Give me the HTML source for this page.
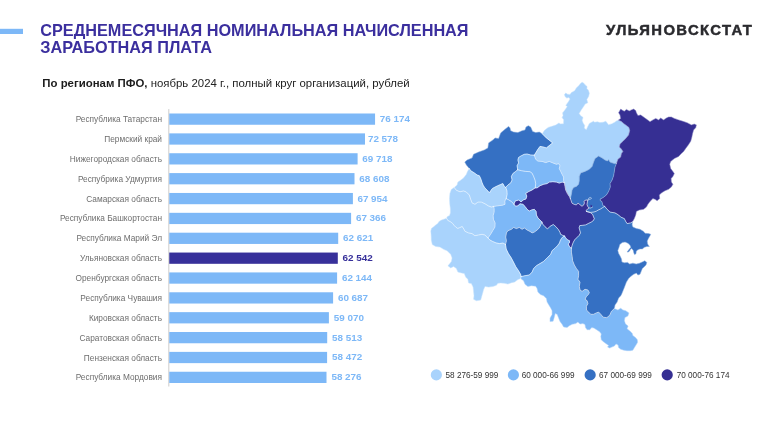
<!DOCTYPE html>
<html lang="ru"><head><meta charset="utf-8"><title>Среднемесячная номинальная начисленная заработная плата</title>
<style>
html,body{margin:0;padding:0;background:#fff;}
body{width:770px;height:428px;position:relative;overflow:hidden;font-family:"Liberation Sans",Arial,sans-serif;}
.accent{position:absolute;left:0;top:29px;width:23px;height:5px;background:#7db8f7;}
h1{position:absolute;left:40.3px;top:21.5px;margin:0;font-size:16.25px;line-height:17.1px;font-weight:bold;color:#3b2f9e;white-space:nowrap;}
.logo{position:absolute;left:606.3px;top:20.9px;font-size:14px;line-height:18px;font-weight:bold;color:#2a2a2e;letter-spacing:1.3px;white-space:nowrap;-webkit-text-stroke:0.45px #2a2a2e;transform-origin:0 0;transform:scaleX(1.06);}
.sub{position:absolute;left:42.3px;top:76.4px;font-size:11.42px;line-height:14px;color:#222;white-space:nowrap;}
.sub b{color:#1c1c1c}
.axis{position:absolute;left:168.5px;top:109px;width:1px;height:277.5px;background:#d9d9d9;}
.lbl{position:absolute;left:0;width:162px;text-align:right;font-size:8.3px;line-height:14px;color:#6e6e6e;white-space:nowrap;}
.bar{position:absolute;left:169.25px;height:11.25px;background:#7db8f7;}
.bar.dk{background:#37309a;}
.val{position:absolute;font-size:9.9px;line-height:14px;font-weight:bold;color:#7db8f7;white-space:nowrap;}
.val.dk{color:#37309a;}
.map{position:absolute;left:0;top:0;width:770px;height:428px;}
.leg{position:absolute;top:368.5px;font-size:8.2px;line-height:14px;color:#333;white-space:nowrap;}
.dot{position:absolute;top:369.4px;width:11.3px;height:11.2px;border-radius:50%;}
</style></head><body>
<h1>СРЕДНЕМЕСЯЧНАЯ НОМИНАЛЬНАЯ НАЧИСЛЕННАЯ<br>ЗАРАБОТНАЯ ПЛАТА</h1>
<div class="logo">УЛЬЯНОВСКСТАТ</div>
<div class="sub"><b>По регионам ПФО,</b> ноябрь 2024 г., полный круг организаций, рублей</div>
<svg class="map" viewBox="0 0 770 428" width="770" height="428"><rect x="0" y="28.8" width="23" height="5.2" fill="#7db8f7"/><rect x="168.15" y="109.1" width="1.25" height="277.4" fill="#d6d6d6"/><rect x="169.25" y="113.50" width="205.81" height="11.25" fill="#7db8f7"/><rect x="169.25" y="133.37" width="195.75" height="11.25" fill="#7db8f7"/><rect x="169.25" y="153.23" width="188.35" height="11.25" fill="#7db8f7"/><rect x="169.25" y="173.09" width="185.25" height="11.25" fill="#7db8f7"/><rect x="169.25" y="192.96" width="183.65" height="11.25" fill="#7db8f7"/><rect x="169.25" y="212.82" width="181.85" height="11.25" fill="#7db8f7"/><rect x="169.25" y="232.69" width="168.95" height="11.25" fill="#7db8f7"/><rect x="169.25" y="252.55" width="168.55" height="11.25" fill="#37309a"/><rect x="169.25" y="272.42" width="167.85" height="11.25" fill="#7db8f7"/><rect x="169.25" y="292.28" width="163.85" height="11.25" fill="#7db8f7"/><rect x="169.25" y="312.15" width="159.65" height="11.25" fill="#7db8f7"/><rect x="169.25" y="332.01" width="157.95" height="11.25" fill="#7db8f7"/><rect x="169.25" y="351.88" width="157.85" height="11.25" fill="#7db8f7"/><rect x="169.25" y="371.75" width="157.25" height="11.25" fill="#7db8f7"/><circle cx="436.35" cy="374.9" r="5.6" fill="#a9d3fc"/><circle cx="513.4" cy="374.9" r="5.6" fill="#7db8f7"/><circle cx="590.15" cy="374.9" r="5.6" fill="#3570c3"/><circle cx="667.2" cy="374.9" r="5.6" fill="#362f93"/></svg>
<div class="lbl" style="top:112.15px">Республика Татарстан</div><div class="val" style="top:112.05px;left:379.7px">76 174</div><div class="lbl" style="top:132.02px">Пермский край</div><div class="val" style="top:131.92px;left:367.9px">72 578</div><div class="lbl" style="top:151.88px">Нижегородская область</div><div class="val" style="top:151.78px;left:362.2px">69 718</div><div class="lbl" style="top:171.75px">Респубрика Удмуртия</div><div class="val" style="top:171.65px;left:359.2px">68 608</div><div class="lbl" style="top:191.61px">Самарская область</div><div class="val" style="top:191.51px;left:357.4px">67 954</div><div class="lbl" style="top:211.47px">Республика Башкортостан</div><div class="val" style="top:211.38px;left:355.9px">67 366</div><div class="lbl" style="top:231.34px">Республика Марий Эл</div><div class="val" style="top:231.24px;left:343.1px">62 621</div><div class="lbl" style="top:251.20px">Ульяновская область</div><div class="val dk" style="top:251.10px;left:342.6px">62 542</div><div class="lbl" style="top:271.07px">Оренбургская область</div><div class="val" style="top:270.97px;left:341.9px">62 144</div><div class="lbl" style="top:290.93px">Республика Чувашия</div><div class="val" style="top:290.83px;left:337.9px">60 687</div><div class="lbl" style="top:310.80px">Кировская область</div><div class="val" style="top:310.70px;left:333.7px">59 070</div><div class="lbl" style="top:330.66px">Саратовская область</div><div class="val" style="top:330.56px;left:332.1px">58 513</div><div class="lbl" style="top:350.53px">Пензенская область</div><div class="val" style="top:350.43px;left:332.1px">58 472</div><div class="lbl" style="top:370.39px">Республика Мордовия</div><div class="val" style="top:370.30px;left:331.4px">58 276</div>
<svg class="map" viewBox="0 0 770 428" width="770" height="428">
<g stroke-width="0.35" stroke-linejoin="round">
<path fill="#3570c3" stroke="#3570c3" d="M469.3,168.5 466.4,165.0 464.8,162.1 467.1,160.0 472.1,157.9 473.6,154.3 478.6,152.1 484.3,150.0 487.9,147.9 488.6,142.9 492.9,140.0 495.0,137.9 498.6,138.6 500.7,132.9 505.0,129.3 508.6,126.4 510.0,127.9 510.7,130.7 513.6,132.1 517.9,132.6 522.1,130.7 525.0,130.0 526.0,127.1 528.3,125.7 530.7,127.1 532.6,131.4 535.7,132.6 539.3,132.1 542.3,133.8 546.4,137.9 550.0,140.7 552.6,142.9 550.0,145.0 546.4,147.9 542.9,146.9 540.0,146.4 537.9,149.3 535.7,152.9 534.3,155.2 530.7,155.0 527.1,154.0 524.3,154.3 521.4,155.7 518.6,157.4 517.9,160.0 518.6,162.9 517.1,165.7 517.7,169.7 515.7,171.4 512.9,173.6 511.4,176.4 512.1,180.0 510.7,182.9 507.9,185.0 505.7,187.4 504.3,186.4 502.9,183.6 500.7,184.4 497.2,186.0 494.8,187.2 492.5,188.4 491.0,190.3 490.0,192.4 488.7,192.1 486.9,189.9 484.9,187.9 483.3,185.6 482.1,182.8 480.7,178.6 479.3,175.7 477.1,175.0 474.3,172.9 470.7,170.7Z"><title>Нижегородская область</title></path>
<path fill="#a9d3fc" stroke="#a9d3fc" d="M542.3,133.8 544.5,130.3 548.2,127.4 552.7,126.1 555.8,125.0 558.9,123.1 560.5,123.9 563.5,123.8 563.7,119.7 562.1,117.6 563.1,115.5 562.6,112.9 564.7,110.2 566.3,108.1 567.3,106.5 565.8,105.4 566.8,103.9 568.4,101.8 570.0,99.1 568.9,97.5 566.8,98.1 565.0,96.5 564.4,94.4 565.8,93.1 567.5,94.2 570.0,94.4 571.5,92.5 574.7,90.7 576.3,88.1 578.9,85.5 580.5,83.4 582.1,82.3 583.6,83.0 585.2,84.9 587.1,86.5 586.8,88.6 588.4,90.2 589.4,93.3 588.6,96.5 586.8,99.6 587.8,102.8 585.2,103.9 583.6,106.5 581.5,109.6 579.1,113.4 580.5,115.5 583.1,117.6 582.1,120.2 583.1,122.9 584.7,125.5 584.2,128.1 586.3,129.7 587.8,126.5 589.4,123.4 591.5,122.3 593.6,121.3 594.7,122.3 597.3,121.8 599.9,122.6 603.1,122.3 605.7,121.3 607.3,122.9 608.4,124.7 611.5,123.9 614.7,122.3 616.8,120.8 618.3,120.2 621.1,121.3 623.6,123.4 626.4,125.6 628.9,127.4 629.7,130.6 628.6,134.9 625.7,138.4 622.9,141.3 620.0,144.1 619.3,147.0 621.4,149.1 622.9,151.5 621.4,153.6 620.7,157.1 617.9,159.3 616.5,163.3 614.3,163.6 610.0,162.1 608.6,159.5 607.5,161.0 605.0,160.0 602.1,157.9 598.6,156.0 595.0,158.6 593.6,162.1 592.1,166.4 589.3,169.3 585.0,171.4 580.7,172.9 579.3,176.4 579.3,180.7 578.6,184.3 576.4,186.4 573.6,187.4 572.1,190.0 571.4,194.3 570.4,198.6 569.3,196.4 567.4,193.6 565.7,190.0 565.0,186.4 564.3,182.6 563.6,180.7 563.6,177.1 562.1,174.3 560.7,171.4 559.3,168.6 560.0,165.7 558.6,163.6 556.4,164.3 552.9,162.9 549.3,161.4 545.7,162.6 542.1,161.4 537.9,161.1 535.7,159.3 534.3,155.2 535.7,152.9 537.9,149.3 540.0,146.4 542.9,146.9 546.4,147.9 550.0,145.0 552.6,142.9 550.0,140.7 546.4,137.9Z"><title>Кировская область</title></path>
<path fill="#362f93" stroke="#362f93" d="M618.3,120.2 620.7,118.4 620.0,114.9 618.6,112.7 620.7,109.1 622.9,110.6 624.3,111.3 626.4,109.4 629.3,110.9 631.4,109.9 633.6,109.1 635.7,110.6 636.4,112.7 637.9,115.6 640.7,114.9 643.6,117.0 646.4,119.1 650.0,121.7 652.9,119.9 655.7,118.4 658.6,119.9 660.7,118.1 663.6,119.9 666.4,118.1 668.6,117.0 671.4,117.0 674.3,118.4 678.6,119.9 682.9,121.3 687.1,122.7 691.4,124.9 694.3,124.1 696.4,124.9 695.7,127.7 693.6,129.9 692.6,133.4 691.7,137.7 690.7,141.3 688.3,144.9 685.7,148.4 683.6,151.5 681.4,153.6 678.6,156.4 674.3,158.6 670.7,161.4 669.7,164.3 670.7,168.6 672.9,171.4 674.3,173.6 672.9,176.4 671.1,178.6 671.4,182.1 672.9,184.3 671.4,186.9 668.6,189.3 665.0,190.7 661.4,192.9 659.3,195.0 659.7,198.6 657.1,200.7 655.0,199.3 652.9,198.6 650.0,201.4 647.9,204.3 646.4,207.1 643.6,209.3 639.3,210.0 636.4,211.4 635.7,215.0 634.3,218.6 632.4,221.9 630.7,222.9 627.1,223.6 625.7,221.4 624.3,218.6 620.7,217.1 618.6,215.0 615.0,212.9 610.0,212.1 607.1,209.3 604.6,206.3 602.8,205.4 602.4,203.2 601.7,201.3 600.2,200.6 600.2,199.0 601.9,198.3 603.6,197.2 606.4,195.0 608.6,191.4 610.3,187.1 610.0,183.6 612.1,180.0 613.6,175.7 614.3,171.4 615.0,167.1 616.5,163.3 617.9,159.3 620.7,157.1 621.4,153.6 622.9,151.5 621.4,149.1 619.3,147.0 620.0,144.1 622.9,141.3 625.7,138.4 628.6,134.9 629.7,130.6 628.9,127.4 626.4,125.6 623.6,123.4 621.1,121.3Z"><title>Пермский край</title></path>
<path fill="#3570c3" stroke="#3570c3" d="M616.5,163.3 614.3,163.6 610.0,162.1 608.6,159.5 607.5,161.0 605.0,160.0 602.1,157.9 598.6,156.0 595.0,158.6 593.6,162.1 592.1,166.4 589.3,169.3 585.0,171.4 580.7,172.9 579.3,176.4 579.3,180.7 578.6,184.3 576.4,186.4 573.6,187.4 572.1,190.0 571.4,194.3 570.4,198.6 572.0,203.2 574.3,204.4 576.2,204.9 578.1,203.2 579.9,204.6 582.0,206.3 583.7,204.9 584.4,203.0 583.9,201.3 586.0,199.9 587.9,200.2 587.4,202.0 587.0,204.4 587.7,206.5 589.1,207.9 587.4,209.3 586.0,210.5 586.4,211.4 590.3,212.4 594.0,212.0 596.3,211.2 598.2,210.1 600.5,209.0 602.4,207.8 604.6,206.3 602.8,205.4 602.4,203.2 601.7,201.3 600.2,200.6 600.2,199.0 601.9,198.3 603.6,197.2 606.4,195.0 608.6,191.4 610.3,187.1 610.0,183.6 612.1,180.0 613.6,175.7 614.3,171.4 615.0,167.1Z"><title>Удмуртия</title></path>
<path fill="#362f93" stroke="#362f93" d="M586.4,211.4 590.3,212.6 592.7,214.5 593.5,216.8 594.3,218.5 593.6,220.3 591.4,222.0 588.5,223.4 585.6,224.9 582.7,225.3 579.8,225.6 579.1,227.8 579.8,230.3 580.5,232.9 579.1,235.4 576.9,237.6 574.7,239.8 573.3,242.3 572.2,245.2 571.4,248.1 570.4,247.7 569.3,246.3 568.2,244.1 569.3,243.0 569.6,240.8 567.5,239.8 565.7,237.9 564.6,236.1 562.8,235.4 560.6,234.3 559.9,232.1 558.4,229.6 555.9,226.7 553.3,224.5 550.1,226.3 547.5,228.9 545.0,226.7 542.9,224.3 541.9,222.1 540.0,220.0 537.9,217.9 536.4,215.0 536.1,211.4 534.3,209.3 531.4,210.0 529.3,211.1 527.1,209.3 525.0,206.4 522.9,204.3 520.0,203.8 517.9,205.8 515.6,206.2 513.9,204.2 515.3,200.9 518.8,200.0 521.0,201.9 523.2,200.0 526.0,198.9 526.8,196.0 525.7,193.5 528.6,191.6 532.0,190.0 535.3,187.8 537.1,187.9 540.0,185.7 543.6,184.3 547.1,183.6 549.3,182.1 552.9,181.7 556.4,182.1 559.3,183.1 562.1,182.1 564.3,182.6 565.0,186.4 565.7,190.0 567.4,193.6 569.3,196.4 570.4,198.6 572.0,203.2 574.3,204.4 576.2,204.9 578.1,203.2 579.9,204.6 582.0,206.3 583.7,204.9 584.4,203.0 583.9,201.3 586.0,199.9 587.9,200.2 587.4,202.0 587.0,204.4 587.7,206.5 589.1,207.9 587.4,209.3 586.0,210.5Z"><title>Татарстан</title></path>
<path fill="#7db8f7" stroke="#7db8f7" d="M534.3,155.2 535.7,159.3 537.9,161.1 542.1,161.4 545.7,162.6 549.3,161.4 552.9,162.9 556.4,164.3 558.6,163.6 560.0,165.7 559.3,168.6 560.7,171.4 562.1,174.3 563.6,177.1 563.6,180.7 564.3,182.6 562.1,182.1 559.3,183.1 556.4,182.1 552.9,181.7 549.3,182.1 547.1,183.6 543.6,184.3 540.0,185.7 537.1,187.9 535.3,187.8 535.7,183.6 535.0,180.0 533.6,176.4 532.1,173.2 530.0,171.7 525.7,171.4 521.4,170.7 517.7,169.7 517.1,165.7 518.6,162.9 517.9,160.0 518.6,157.4 521.4,155.7 524.3,154.3 527.1,154.0 530.7,155.0Z"><title>Марий Эл</title></path>
<path fill="#7db8f7" stroke="#7db8f7" d="M517.7,169.7 521.4,170.7 525.7,171.4 530.0,171.7 532.1,173.2 533.6,176.4 535.0,180.0 535.7,183.6 535.3,187.8 532.0,190.0 528.6,191.6 525.7,193.5 526.8,196.0 526.0,198.9 523.2,200.0 521.0,201.9 518.8,200.0 515.3,200.9 513.9,204.2 511.4,201.5 508.6,199.8 506.2,198.6 507.1,194.3 506.9,190.7 505.7,187.4 507.9,185.0 510.7,182.9 512.1,180.0 511.4,176.4 512.9,173.6 515.7,171.4Z"><title>Чувашия</title></path>
<path fill="#a9d3fc" stroke="#a9d3fc" d="M505.7,187.4 504.3,186.4 502.9,183.6 500.7,184.4 497.2,186.0 494.8,187.2 492.5,188.4 491.0,190.3 490.0,192.4 488.7,192.1 486.9,189.9 484.9,187.9 483.3,185.6 482.1,182.8 480.7,178.6 479.3,175.7 477.1,175.0 474.3,172.9 470.7,170.7 469.3,168.5 467.5,171.5 466.4,174.3 463.6,177.9 460.0,180.7 457.9,182.1 457.1,185.0 454.2,187.5 456.4,190.3 460.0,191.8 463.6,190.9 466.4,192.1 469.3,195.0 470.7,199.3 472.1,202.9 475.0,204.3 477.9,202.1 481.4,202.1 485.0,203.8 488.4,205.9 491.5,207.1 493.6,206.4 497.9,205.8 502.5,205.2 505.0,204.3 504.8,201.0 506.2,198.6 507.1,194.3 506.9,190.7Z"><title>Мордовия</title></path>
<path fill="#a9d3fc" stroke="#a9d3fc" d="M454.2,187.5 456.4,190.3 460.0,191.8 463.6,190.9 466.4,192.1 469.3,195.0 470.7,199.3 472.1,202.9 475.0,204.3 477.9,202.1 481.4,202.1 485.0,203.8 488.4,205.9 491.5,207.1 493.6,206.4 494.1,208.6 494.1,212.1 493.1,215.7 493.4,219.3 495.1,222.9 494.9,227.1 492.7,230.7 490.6,234.3 488.0,237.9 487.0,237.1 484.9,235.0 482.0,234.3 478.4,235.0 474.9,235.7 472.0,233.6 468.4,232.9 464.9,231.2 463.8,229.0 462.2,226.5 459.5,227.7 457.7,228.4 455.8,227.1 454.1,225.4 452.6,223.4 450.2,221.6 447.9,220.5 446.6,218.3 447.2,216.7 449.5,215.6 450.4,213.0 450.4,208.7 449.8,204.3 449.5,199.0 449.9,193.6 451.3,189.5Z"><title>Пензенская область</title></path>
<path fill="#7db8f7" stroke="#7db8f7" d="M506.2,198.6 508.6,199.8 511.4,201.5 513.9,204.2 515.6,206.2 517.9,205.8 520.0,203.8 522.9,204.3 525.0,206.4 527.1,209.3 529.3,211.1 531.4,210.0 534.3,209.3 536.1,211.4 536.4,215.0 537.9,217.9 540.0,220.0 541.9,222.1 540.7,225.0 539.3,227.9 537.1,230.0 534.3,232.1 532.1,232.9 530.0,231.4 527.1,230.0 524.3,227.9 522.1,229.3 519.3,227.4 516.4,228.6 513.6,227.4 511.4,229.3 507.9,230.7 506.4,232.9 505.7,237.1 506.4,240.7 505.5,244.6 503.0,243.0 499.5,243.6 496.0,242.9 492.5,241.4 489.9,240.0 488.0,237.9 490.6,234.3 492.7,230.7 494.9,227.1 495.1,222.9 493.4,219.3 493.1,215.7 494.1,212.1 494.1,208.6 493.6,206.4 497.9,205.8 502.5,205.2 505.0,204.3 504.8,201.0Z"><title>Ульяновская область</title></path>
<path fill="#3570c3" stroke="#3570c3" d="M541.9,222.1 540.7,225.0 539.3,227.9 537.1,230.0 534.3,232.1 532.1,232.9 530.0,231.4 527.1,230.0 524.3,227.9 522.1,229.3 519.3,227.4 516.4,228.6 513.6,227.4 511.4,229.3 507.9,230.7 506.4,232.9 505.7,237.1 506.4,240.7 505.5,244.6 506.2,249.0 508.4,253.6 511.2,257.8 513.4,262.0 515.8,266.8 518.3,270.4 520.7,274.6 521.1,276.6 525.0,275.7 529.3,275.0 532.1,272.1 533.6,268.6 536.4,265.7 540.0,263.6 543.6,261.4 547.1,257.9 550.7,254.3 552.1,250.7 555.0,248.2 557.3,245.9 559.5,243.0 560.2,240.8 561.3,238.7 562.8,236.9 564.6,236.1 562.8,235.4 560.6,234.3 559.9,232.1 558.4,229.6 555.9,226.7 553.3,224.5 550.1,226.3 547.5,228.9 545.0,226.7 542.9,224.3Z"><title>Самарская область</title></path>
<path fill="#a9d3fc" stroke="#a9d3fc" d="M446.6,218.3 447.9,220.5 450.2,221.6 452.6,223.4 454.1,225.4 455.8,227.1 457.7,228.4 459.5,227.7 462.2,226.5 463.8,229.0 464.9,231.2 468.4,232.9 472.0,233.6 474.9,235.7 478.4,235.0 482.0,234.3 484.9,235.0 487.0,237.1 488.0,237.9 489.9,240.0 492.5,241.4 496.0,242.9 499.5,243.6 503.0,243.0 505.5,244.6 506.2,249.0 508.4,253.6 511.2,257.8 513.4,262.0 515.8,266.8 518.3,270.4 520.7,274.6 521.1,276.6 520.7,278.6 517.9,279.6 514.7,281.9 510.7,282.9 507.9,284.0 504.3,283.3 500.7,282.9 497.9,283.3 496.4,285.3 492.9,286.5 488.6,287.1 485.0,286.4 483.6,289.6 482.6,293.2 481.7,296.4 480.7,300.0 476.4,300.7 473.6,299.3 474.0,295.7 473.6,291.4 473.1,287.1 471.4,283.6 468.6,282.9 467.9,279.3 465.7,277.1 464.3,273.6 461.4,272.9 457.9,272.1 456.4,268.6 453.6,266.4 450.7,267.9 447.9,265.7 449.3,264.3 451.4,261.4 452.1,257.9 450.7,254.3 447.1,250.7 443.6,249.3 440.0,247.1 435.7,246.4 432.3,244.6 431.3,240.0 431.2,236.0 430.8,231.0 431.6,228.3 433.8,226.8 435.6,225.0 437.8,223.6 438.8,221.7 441.0,220.3 443.9,219.2Z"><title>Саратовская область</title></path>
<path fill="#7db8f7" stroke="#7db8f7" d="M564.6,236.1 565.7,237.9 567.5,239.8 569.6,240.8 569.3,243.0 568.2,244.1 569.3,246.3 570.4,247.7 571.4,248.1 571.4,252.1 572.1,256.4 572.6,260.7 574.3,265.0 576.4,268.6 578.6,271.4 578.6,275.7 577.9,279.3 580.0,282.1 579.3,286.4 580.0,290.0 582.1,291.4 585.0,289.3 587.9,290.0 589.3,292.5 588.6,294.3 586.4,296.4 585.0,299.3 587.1,300.7 587.9,303.6 586.4,306.4 586.4,310.0 588.6,312.1 590.7,314.3 593.6,314.3 596.4,312.9 598.6,312.1 601.2,314.8 603.2,317.2 606.8,317.7 609.8,315.2 611.4,311.4 614.3,308.6 617.9,310.0 620.7,308.3 622.9,310.0 625.7,310.7 628.9,312.9 627.9,316.0 624.9,317.6 624.4,320.8 625.5,323.9 628.1,326.0 627.0,328.7 630.2,331.3 632.3,333.4 632.8,335.5 635.5,337.6 637.3,339.7 637.6,342.3 636.0,345.0 634.4,347.6 632.8,350.2 630.2,350.7 627.0,350.7 623.9,350.2 620.7,349.2 618.6,347.6 618.1,345.0 616.0,343.9 614.4,346.0 611.8,347.1 609.7,348.1 607.6,347.1 608.7,345.5 606.5,343.9 603.4,341.8 601.3,339.7 600.8,336.5 601.3,333.9 599.7,331.8 596.6,329.7 593.9,328.1 591.8,327.6 589.7,329.7 587.1,329.7 585.5,327.6 585.0,324.5 582.9,323.6 580.0,324.0 577.9,322.1 575.7,323.6 572.1,324.3 569.3,325.7 567.1,327.4 563.6,326.9 562.1,324.3 560.0,321.4 558.6,317.9 557.1,314.3 555.2,313.6 554.2,317.5 553.1,321.2 550.0,321.6 550.1,318.0 552.1,314.5 552.1,310.7 550.7,307.9 548.9,305.0 547.1,302.1 546.4,298.6 543.6,295.7 540.5,294.6 537.9,292.1 537.1,288.6 535.7,286.2 531.4,285.7 527.9,286.4 525.0,284.3 523.6,280.7 520.7,278.6 521.1,276.6 525.0,275.7 529.3,275.0 532.1,272.1 533.6,268.6 536.4,265.7 540.0,263.6 543.6,261.4 547.1,257.9 550.7,254.3 552.1,250.7 555.0,248.2 557.3,245.9 559.5,243.0 560.2,240.8 561.3,238.7 562.8,236.9Z"><title>Оренбургская область</title></path>
<path fill="#3570c3" stroke="#3570c3" d="M604.6,206.3 607.1,209.3 610.0,212.1 615.0,212.9 618.6,215.0 620.7,217.1 624.3,218.6 625.7,221.4 627.1,223.6 630.7,222.9 632.4,221.9 632.1,225.0 632.9,227.1 636.4,228.6 640.0,229.3 643.6,231.4 645.0,233.3 648.6,233.6 650.7,234.3 650.1,235.6 648.5,238.3 647.2,241.1 647.6,244.0 649.3,246.5 646.8,246.5 644.4,247.3 642.3,248.9 639.9,248.9 637.4,250.1 636.2,251.4 636.0,253.8 634.5,254.6 633.7,252.6 633.3,250.5 631.7,248.5 630.5,249.3 629.6,251.0 628.0,252.2 627.2,251.8 629.2,249.3 630.9,247.3 630.0,245.2 628.0,243.2 625.1,242.0 622.3,242.4 619.8,244.4 619.0,247.3 617.8,250.5 618.6,253.4 620.2,256.3 621.5,259.1 621.9,262.0 624.3,262.8 627.6,262.4 629.6,264.1 632.9,263.2 636.2,264.1 639.5,263.2 642.3,262.0 644.8,260.8 646.8,262.4 646.0,264.9 644.0,266.9 642.3,268.6 641.4,270.7 640.0,274.3 637.9,275.0 636.4,273.1 633.6,274.3 630.7,276.4 628.6,278.6 626.4,282.1 625.0,285.7 623.6,289.3 622.3,292.5 621.0,295.5 618.6,297.9 617.1,302.1 615.0,305.0 614.3,308.6 611.4,311.4 609.8,315.2 606.8,317.7 603.2,317.2 601.2,314.8 598.6,312.1 596.4,312.9 593.6,314.3 590.7,314.3 588.6,312.1 586.4,310.0 586.4,306.4 587.9,303.6 587.1,300.7 585.0,299.3 586.4,296.4 588.6,294.3 589.3,292.5 587.9,290.0 585.0,289.3 582.1,291.4 580.0,290.0 579.3,286.4 580.0,282.1 577.9,279.3 578.6,275.7 578.6,271.4 576.4,268.6 574.3,265.0 572.6,260.7 572.1,256.4 571.4,252.1 571.4,248.1 572.2,245.2 573.3,242.3 574.7,239.8 576.9,237.6 579.1,235.4 580.5,232.9 579.8,230.3 579.1,227.8 579.8,225.6 582.7,225.3 585.6,224.9 588.5,223.4 591.4,222.0 593.6,220.3 594.3,218.5 593.5,216.8 592.7,214.5 590.3,212.6 586.4,211.4 590.3,212.4 594.0,212.0 596.3,211.2 598.2,210.1 600.5,209.0 602.4,207.8Z"><title>Башкортостан</title></path>
<path fill="#362f93" d="M590.7,204.6 L591.9,205.4 L592.4,206.5 L591.2,207.5 L590.4,206.5Z"/>
</g><g fill="none" stroke="#f6faff" stroke-linejoin="round" stroke-linecap="round">
<path stroke-width="0.2" d="M469.3,168.5 466.4,165.0 464.8,162.1 467.1,160.0 472.1,157.9 473.6,154.3 478.6,152.1 484.3,150.0 487.9,147.9 488.6,142.9 492.9,140.0 495.0,137.9 498.6,138.6 500.7,132.9 505.0,129.3 508.6,126.4 510.0,127.9 510.7,130.7 513.6,132.1 517.9,132.6 522.1,130.7 525.0,130.0 526.0,127.1 528.3,125.7 530.7,127.1 532.6,131.4 535.7,132.6 539.3,132.1 542.3,133.8"/>
<path stroke-width="0.62" d="M542.3,133.8 546.4,137.9 550.0,140.7 552.6,142.9 550.0,145.0 546.4,147.9 542.9,146.9 540.0,146.4 537.9,149.3 535.7,152.9 534.3,155.2"/>
<path stroke-width="0.62" d="M534.3,155.2 530.7,155.0 527.1,154.0 524.3,154.3 521.4,155.7 518.6,157.4 517.9,160.0 518.6,162.9 517.1,165.7 517.7,169.7"/>
<path stroke-width="0.62" d="M517.7,169.7 515.7,171.4 512.9,173.6 511.4,176.4 512.1,180.0 510.7,182.9 507.9,185.0 505.7,187.4"/>
<path stroke-width="0.62" d="M505.7,187.4 504.3,186.4 502.9,183.6 500.7,184.4 497.2,186.0 494.8,187.2 492.5,188.4 491.0,190.3 490.0,192.4 488.7,192.1 486.9,189.9 484.9,187.9 483.3,185.6 482.1,182.8 480.7,178.6 479.3,175.7 477.1,175.0 474.3,172.9 470.7,170.7 469.3,168.5"/>
<path stroke-width="0.2" d="M542.3,133.8 544.5,130.3 548.2,127.4 552.7,126.1 555.8,125.0 558.9,123.1 560.5,123.9 563.5,123.8 563.7,119.7 562.1,117.6 563.1,115.5 562.6,112.9 564.7,110.2 566.3,108.1 567.3,106.5 565.8,105.4 566.8,103.9 568.4,101.8 570.0,99.1 568.9,97.5 566.8,98.1 565.0,96.5 564.4,94.4 565.8,93.1 567.5,94.2 570.0,94.4 571.5,92.5 574.7,90.7 576.3,88.1 578.9,85.5 580.5,83.4 582.1,82.3 583.6,83.0 585.2,84.9 587.1,86.5 586.8,88.6 588.4,90.2 589.4,93.3 588.6,96.5 586.8,99.6 587.8,102.8 585.2,103.9 583.6,106.5 581.5,109.6 579.1,113.4 580.5,115.5 583.1,117.6 582.1,120.2 583.1,122.9 584.7,125.5 584.2,128.1 586.3,129.7 587.8,126.5 589.4,123.4 591.5,122.3 593.6,121.3 594.7,122.3 597.3,121.8 599.9,122.6 603.1,122.3 605.7,121.3 607.3,122.9 608.4,124.7 611.5,123.9 614.7,122.3 616.8,120.8 618.3,120.2"/>
<path stroke-width="0.3" d="M618.3,120.2 621.1,121.3 623.6,123.4 626.4,125.6 628.9,127.4 629.7,130.6 628.6,134.9 625.7,138.4 622.9,141.3 620.0,144.1 619.3,147.0 621.4,149.1 622.9,151.5 621.4,153.6 620.7,157.1 617.9,159.3 616.5,163.3"/>
<path stroke-width="0.3" d="M616.5,163.3 614.3,163.6 610.0,162.1 608.6,159.5 607.5,161.0 605.0,160.0 602.1,157.9 598.6,156.0 595.0,158.6 593.6,162.1 592.1,166.4 589.3,169.3 585.0,171.4 580.7,172.9 579.3,176.4 579.3,180.7 578.6,184.3 576.4,186.4 573.6,187.4 572.1,190.0 571.4,194.3 570.4,198.6"/>
<path stroke-width="0.62" d="M570.4,198.6 569.3,196.4 567.4,193.6 565.7,190.0 565.0,186.4 564.3,182.6"/>
<path stroke-width="0.62" d="M564.3,182.6 563.6,180.7 563.6,177.1 562.1,174.3 560.7,171.4 559.3,168.6 560.0,165.7 558.6,163.6 556.4,164.3 552.9,162.9 549.3,161.4 545.7,162.6 542.1,161.4 537.9,161.1 535.7,159.3 534.3,155.2"/>
<path stroke-width="0.2" d="M618.3,120.2 620.7,118.4 620.0,114.9 618.6,112.7 620.7,109.1 622.9,110.6 624.3,111.3 626.4,109.4 629.3,110.9 631.4,109.9 633.6,109.1 635.7,110.6 636.4,112.7 637.9,115.6 640.7,114.9 643.6,117.0 646.4,119.1 650.0,121.7 652.9,119.9 655.7,118.4 658.6,119.9 660.7,118.1 663.6,119.9 666.4,118.1 668.6,117.0 671.4,117.0 674.3,118.4 678.6,119.9 682.9,121.3 687.1,122.7 691.4,124.9 694.3,124.1 696.4,124.9 695.7,127.7 693.6,129.9 692.6,133.4 691.7,137.7 690.7,141.3 688.3,144.9 685.7,148.4 683.6,151.5 681.4,153.6 678.6,156.4 674.3,158.6 670.7,161.4 669.7,164.3 670.7,168.6 672.9,171.4 674.3,173.6 672.9,176.4 671.1,178.6 671.4,182.1 672.9,184.3 671.4,186.9 668.6,189.3 665.0,190.7 661.4,192.9 659.3,195.0 659.7,198.6 657.1,200.7 655.0,199.3 652.9,198.6 650.0,201.4 647.9,204.3 646.4,207.1 643.6,209.3 639.3,210.0 636.4,211.4 635.7,215.0 634.3,218.6 632.4,221.9"/>
<path stroke-width="0.62" d="M632.4,221.9 630.7,222.9 627.1,223.6 625.7,221.4 624.3,218.6 620.7,217.1 618.6,215.0 615.0,212.9 610.0,212.1 607.1,209.3 604.6,206.3"/>
<path stroke-width="0.3" d="M604.6,206.3 602.8,205.4 602.4,203.2 601.7,201.3 600.2,200.6 600.2,199.0 601.9,198.3 603.6,197.2 606.4,195.0 608.6,191.4 610.3,187.1 610.0,183.6 612.1,180.0 613.6,175.7 614.3,171.4 615.0,167.1 616.5,163.3"/>
<path stroke-width="0.62" d="M570.4,198.6 572.0,203.2 574.3,204.4 576.2,204.9 578.1,203.2 579.9,204.6 582.0,206.3 583.7,204.9 584.4,203.0 583.9,201.3 586.0,199.9 587.9,200.2 587.4,202.0 587.0,204.4 587.7,206.5 589.1,207.9 587.4,209.3 586.0,210.5 586.4,211.4"/>
<path stroke-width="0.62" d="M586.4,211.4 590.3,212.4 594.0,212.0 596.3,211.2 598.2,210.1 600.5,209.0 602.4,207.8 604.6,206.3"/>
<path stroke-width="0.62" d="M586.4,211.4 590.3,212.6 592.7,214.5 593.5,216.8 594.3,218.5 593.6,220.3 591.4,222.0 588.5,223.4 585.6,224.9 582.7,225.3 579.8,225.6 579.1,227.8 579.8,230.3 580.5,232.9 579.1,235.4 576.9,237.6 574.7,239.8 573.3,242.3 572.2,245.2 571.4,248.1"/>
<path stroke-width="0.62" d="M571.4,248.1 570.4,247.7 569.3,246.3 568.2,244.1 569.3,243.0 569.6,240.8 567.5,239.8 565.7,237.9 564.6,236.1"/>
<path stroke-width="0.62" d="M564.6,236.1 562.8,235.4 560.6,234.3 559.9,232.1 558.4,229.6 555.9,226.7 553.3,224.5 550.1,226.3 547.5,228.9 545.0,226.7 542.9,224.3 541.9,222.1"/>
<path stroke-width="0.62" d="M541.9,222.1 540.0,220.0 537.9,217.9 536.4,215.0 536.1,211.4 534.3,209.3 531.4,210.0 529.3,211.1 527.1,209.3 525.0,206.4 522.9,204.3 520.0,203.8 517.9,205.8 515.6,206.2 513.9,204.2"/>
<path stroke-width="0.62" d="M513.9,204.2 515.3,200.9 518.8,200.0 521.0,201.9 523.2,200.0 526.0,198.9 526.8,196.0 525.7,193.5 528.6,191.6 532.0,190.0 535.3,187.8"/>
<path stroke-width="0.62" d="M535.3,187.8 537.1,187.9 540.0,185.7 543.6,184.3 547.1,183.6 549.3,182.1 552.9,181.7 556.4,182.1 559.3,183.1 562.1,182.1 564.3,182.6"/>
<path stroke-width="0.62" d="M535.3,187.8 535.7,183.6 535.0,180.0 533.6,176.4 532.1,173.2 530.0,171.7 525.7,171.4 521.4,170.7 517.7,169.7"/>
<path stroke-width="0.62" d="M513.9,204.2 511.4,201.5 508.6,199.8 506.2,198.6"/>
<path stroke-width="0.62" d="M506.2,198.6 507.1,194.3 506.9,190.7 505.7,187.4"/>
<path stroke-width="0.2" d="M469.3,168.5 467.5,171.5 466.4,174.3 463.6,177.9 460.0,180.7 457.9,182.1 457.1,185.0 454.2,187.5"/>
<path stroke-width="0.62" d="M454.2,187.5 456.4,190.3 460.0,191.8 463.6,190.9 466.4,192.1 469.3,195.0 470.7,199.3 472.1,202.9 475.0,204.3 477.9,202.1 481.4,202.1 485.0,203.8 488.4,205.9 491.5,207.1 493.6,206.4"/>
<path stroke-width="0.62" d="M493.6,206.4 497.9,205.8 502.5,205.2 505.0,204.3 504.8,201.0 506.2,198.6"/>
<path stroke-width="0.62" d="M493.6,206.4 494.1,208.6 494.1,212.1 493.1,215.7 493.4,219.3 495.1,222.9 494.9,227.1 492.7,230.7 490.6,234.3 488.0,237.9"/>
<path stroke-width="0.62" d="M488.0,237.9 487.0,237.1 484.9,235.0 482.0,234.3 478.4,235.0 474.9,235.7 472.0,233.6 468.4,232.9 464.9,231.2 463.8,229.0 462.2,226.5 459.5,227.7 457.7,228.4 455.8,227.1 454.1,225.4 452.6,223.4 450.2,221.6 447.9,220.5 446.6,218.3"/>
<path stroke-width="0.2" d="M446.6,218.3 447.2,216.7 449.5,215.6 450.4,213.0 450.4,208.7 449.8,204.3 449.5,199.0 449.9,193.6 451.3,189.5 454.2,187.5"/>
<path stroke-width="0.62" d="M541.9,222.1 540.7,225.0 539.3,227.9 537.1,230.0 534.3,232.1 532.1,232.9 530.0,231.4 527.1,230.0 524.3,227.9 522.1,229.3 519.3,227.4 516.4,228.6 513.6,227.4 511.4,229.3 507.9,230.7 506.4,232.9 505.7,237.1 506.4,240.7 505.5,244.6"/>
<path stroke-width="0.62" d="M505.5,244.6 503.0,243.0 499.5,243.6 496.0,242.9 492.5,241.4 489.9,240.0 488.0,237.9"/>
<path stroke-width="0.62" d="M505.5,244.6 506.2,249.0 508.4,253.6 511.2,257.8 513.4,262.0 515.8,266.8 518.3,270.4 520.7,274.6 521.1,276.6"/>
<path stroke-width="0.62" d="M521.1,276.6 525.0,275.7 529.3,275.0 532.1,272.1 533.6,268.6 536.4,265.7 540.0,263.6 543.6,261.4 547.1,257.9 550.7,254.3 552.1,250.7 555.0,248.2 557.3,245.9 559.5,243.0 560.2,240.8 561.3,238.7 562.8,236.9 564.6,236.1"/>
<path stroke-width="0.62" d="M521.1,276.6 520.7,278.6"/>
<path stroke-width="0.2" d="M520.7,278.6 517.9,279.6 514.7,281.9 510.7,282.9 507.9,284.0 504.3,283.3 500.7,282.9 497.9,283.3 496.4,285.3 492.9,286.5 488.6,287.1 485.0,286.4 483.6,289.6 482.6,293.2 481.7,296.4 480.7,300.0 476.4,300.7 473.6,299.3 474.0,295.7 473.6,291.4 473.1,287.1 471.4,283.6 468.6,282.9 467.9,279.3 465.7,277.1 464.3,273.6 461.4,272.9 457.9,272.1 456.4,268.6 453.6,266.4 450.7,267.9 447.9,265.7 449.3,264.3 451.4,261.4 452.1,257.9 450.7,254.3 447.1,250.7 443.6,249.3 440.0,247.1 435.7,246.4 432.3,244.6 431.3,240.0 431.2,236.0 430.8,231.0 431.6,228.3 433.8,226.8 435.6,225.0 437.8,223.6 438.8,221.7 441.0,220.3 443.9,219.2 446.6,218.3"/>
<path stroke-width="0.62" d="M571.4,248.1 571.4,252.1 572.1,256.4 572.6,260.7 574.3,265.0 576.4,268.6 578.6,271.4 578.6,275.7 577.9,279.3 580.0,282.1 579.3,286.4 580.0,290.0 582.1,291.4 585.0,289.3 587.9,290.0 589.3,292.5 588.6,294.3 586.4,296.4 585.0,299.3 587.1,300.7 587.9,303.6 586.4,306.4 586.4,310.0 588.6,312.1 590.7,314.3 593.6,314.3 596.4,312.9 598.6,312.1 601.2,314.8 603.2,317.2 606.8,317.7 609.8,315.2 611.4,311.4 614.3,308.6"/>
<path stroke-width="0.2" d="M614.3,308.6 617.9,310.0 620.7,308.3 622.9,310.0 625.7,310.7 628.9,312.9 627.9,316.0 624.9,317.6 624.4,320.8 625.5,323.9 628.1,326.0 627.0,328.7 630.2,331.3 632.3,333.4 632.8,335.5 635.5,337.6 637.3,339.7 637.6,342.3 636.0,345.0 634.4,347.6 632.8,350.2 630.2,350.7 627.0,350.7 623.9,350.2 620.7,349.2 618.6,347.6 618.1,345.0 616.0,343.9 614.4,346.0 611.8,347.1 609.7,348.1 607.6,347.1 608.7,345.5 606.5,343.9 603.4,341.8 601.3,339.7 600.8,336.5 601.3,333.9 599.7,331.8 596.6,329.7 593.9,328.1 591.8,327.6 589.7,329.7 587.1,329.7 585.5,327.6 585.0,324.5 582.9,323.6 580.0,324.0 577.9,322.1 575.7,323.6 572.1,324.3 569.3,325.7 567.1,327.4 563.6,326.9 562.1,324.3 560.0,321.4 558.6,317.9 557.1,314.3 555.2,313.6 554.2,317.5 553.1,321.2 550.0,321.6 550.1,318.0 552.1,314.5 552.1,310.7 550.7,307.9 548.9,305.0 547.1,302.1 546.4,298.6 543.6,295.7 540.5,294.6 537.9,292.1 537.1,288.6 535.7,286.2 531.4,285.7 527.9,286.4 525.0,284.3 523.6,280.7 520.7,278.6"/>
<path stroke-width="0.2" d="M632.4,221.9 632.1,225.0 632.9,227.1 636.4,228.6 640.0,229.3 643.6,231.4 645.0,233.3 648.6,233.6 650.7,234.3 650.1,235.6 648.5,238.3 647.2,241.1 647.6,244.0 649.3,246.5 646.8,246.5 644.4,247.3 642.3,248.9 639.9,248.9 637.4,250.1 636.2,251.4 636.0,253.8 634.5,254.6 633.7,252.6 633.3,250.5 631.7,248.5 630.5,249.3 629.6,251.0 628.0,252.2 627.2,251.8 629.2,249.3 630.9,247.3 630.0,245.2 628.0,243.2 625.1,242.0 622.3,242.4 619.8,244.4 619.0,247.3 617.8,250.5 618.6,253.4 620.2,256.3 621.5,259.1 621.9,262.0 624.3,262.8 627.6,262.4 629.6,264.1 632.9,263.2 636.2,264.1 639.5,263.2 642.3,262.0 644.8,260.8 646.8,262.4 646.0,264.9 644.0,266.9 642.3,268.6 641.4,270.7 640.0,274.3 637.9,275.0 636.4,273.1 633.6,274.3 630.7,276.4 628.6,278.6 626.4,282.1 625.0,285.7 623.6,289.3 622.3,292.5 621.0,295.5 618.6,297.9 617.1,302.1 615.0,305.0 614.3,308.6"/>
<path stroke-width="0.5" d="M587.9,200.2 L588.8,198.1 L590.2,197.4 L591.6,198.3 L590.5,199.1 L588.6,199.7 M589.1,207.9 L590.7,208.1 L592.6,207"/>
</g></svg>
<div class="leg" style="left:445.5px">58 276-59 999</div>
<div class="leg" style="left:521.7px">60 000-66 999</div>
<div class="leg" style="left:599px">67 000-69 999</div>
<div class="leg" style="left:676.7px">70 000-76 174</div>
</body></html>
